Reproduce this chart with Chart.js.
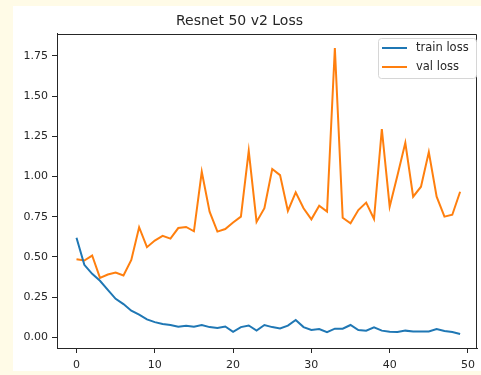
<!DOCTYPE html>
<html>
<head>
<meta charset="utf-8">
<script src="https://cdn.jsdelivr.net/npm/chart.js@4/dist/chart.umd.min.js"></script>
<style>
  html, body { margin: 0; padding: 0; background: #fffbe7; }
  canvas { display: block; }
</style>
</head>
<body>
<canvas id="c" width="481" height="375"></canvas>
<script>
const titleText = "Resnet 50 v2 Loss";
const epochs = Array.from({length: 50}, (_, i) => i);
const trainLoss = [0.620, 0.451, 0.395, 0.352, 0.296, 0.240, 0.207, 0.166, 0.141, 0.112,
                   0.095, 0.083, 0.077, 0.066, 0.073, 0.066, 0.077, 0.064, 0.058, 0.068,
                   0.035, 0.064, 0.074, 0.043, 0.077, 0.064, 0.056, 0.073, 0.108, 0.064,
                   0.046, 0.052, 0.033, 0.054, 0.054, 0.077, 0.046, 0.042, 0.062, 0.042,
                   0.035, 0.033, 0.042, 0.037, 0.037, 0.037, 0.052, 0.040, 0.033, 0.021];
const valLoss = [0.486, 0.478, 0.509, 0.370, 0.391, 0.403, 0.385, 0.482, 0.685, 0.561,
                 0.602, 0.631, 0.614, 0.680, 0.687, 0.660, 1.030, 0.782, 0.658, 0.674,
                 0.714, 0.751, 1.160, 0.718, 0.803, 1.047, 1.009, 0.786, 0.902, 0.803,
                 0.734, 0.819, 0.782, 1.800, 0.744, 0.710, 0.792, 0.838, 0.736, 1.295,
                 0.813, 1.009, 1.210, 0.875, 0.937, 1.152, 0.875, 0.751, 0.763, 0.906];
const seriesNames = ["train loss", "val loss"];
const xTickValues = [0, 10, 20, 30, 40, 50];
const yTickValues = [0.00, 0.25, 0.50, 0.75, 1.00, 1.25, 1.50, 1.75];

const colors = ["#1f77b4", "#ff7f0e"];
const axisColor = "#262626";
const FONT = "'DejaVu Sans', sans-serif";

const bgPlugin = {
  id: 'bg',
  beforeDraw(chart) {
    const ctx = chart.ctx;
    ctx.save();
    ctx.fillStyle = '#fffbe7';
    ctx.fillRect(0, 0, chart.width, chart.height);
    ctx.fillStyle = '#ffffff';
    ctx.fillRect(13, 6, chart.width - 13, 365);
    ctx.restore();
  }
};

const framePlugin = {
  id: 'frame',
  afterDraw(chart) {
    const ctx = chart.ctx;
    const a = chart.chartArea;
    ctx.save();
    ctx.strokeStyle = axisColor;
    ctx.lineWidth = 1;
    ctx.beginPath();
    ctx.moveTo(Math.round(a.left) + 0.5, Math.round(a.top) + 0.5);
    ctx.lineTo(Math.round(a.right) - 0.5, Math.round(a.top) + 0.5);
    ctx.lineTo(Math.round(a.right) - 0.5, Math.round(a.bottom) + 0.5);
    ctx.stroke();

    // legend
    const bx = 378.5, by = 38.5, bw = 98, bh = 40, r = 3;
    ctx.beginPath();
    ctx.moveTo(bx + r, by);
    ctx.lineTo(bx + bw - r, by);
    ctx.quadraticCurveTo(bx + bw, by, bx + bw, by + r);
    ctx.lineTo(bx + bw, by + bh - r);
    ctx.quadraticCurveTo(bx + bw, by + bh, bx + bw - r, by + bh);
    ctx.lineTo(bx + r, by + bh);
    ctx.quadraticCurveTo(bx, by + bh, bx, by + bh - r);
    ctx.lineTo(bx, by + r);
    ctx.quadraticCurveTo(bx, by, bx + r, by);
    ctx.closePath();
    ctx.fillStyle = 'rgba(255,255,255,0.8)';
    ctx.fill();
    ctx.strokeStyle = '#d6d6d6';
    ctx.stroke();

    chart.data.datasets.forEach((ds, i) => {
      const y = 48 + i * 19;
      ctx.strokeStyle = ds.borderColor;
      ctx.lineWidth = 2;
      ctx.beginPath();
      ctx.moveTo(382, y);
      ctx.lineTo(407, y);
      ctx.stroke();
      ctx.fillStyle = '#262626';
      ctx.font = "11.5px " + FONT;
      ctx.textBaseline = 'middle';
      ctx.textAlign = 'left';
      ctx.fillText(ds.label, 416, y);
    });
    ctx.restore();
  }
};

new Chart(document.getElementById('c'), {
  type: 'line',
  data: {
    datasets: [
      { label: seriesNames[0], data: trainLoss.map((v, i) => ({x: epochs[i], y: v})),
        borderColor: colors[0], backgroundColor: colors[0], borderWidth: 2, pointRadius: 0, tension: 0 },
      { label: seriesNames[1], data: valLoss.map((v, i) => ({x: epochs[i], y: v})),
        borderColor: colors[1], backgroundColor: colors[1], borderWidth: 2, pointRadius: 0, tension: 0 }
    ]
  },
  options: {
    responsive: false,
    animation: false,
    devicePixelRatio: 1,
    layout: { padding: { left: 0, right: 2, top: 0, bottom: 0 } },
    plugins: {
      legend: { display: false },
      tooltip: { enabled: false },
      title: {
        display: true,
        text: titleText,
        color: '#262626',
        font: { family: FONT, size: 14, weight: 'normal' },
        padding: { top: 13, bottom: 4 }
      }
    },
    scales: {
      x: {
        type: 'linear',
        min: -2.49,
        max: 51.2,
        afterBuildTicks(scale) { scale.ticks = xTickValues.map(v => ({value: v})); },
        afterFit(scale) { scale.height = 27; },
        ticks: {
          color: '#262626',
          font: { family: FONT, size: 11 },
          padding: 6,
          maxRotation: 0,
          callback: v => String(v)
        },
        grid: { display: true, drawOnChartArea: false, drawTicks: true, tickLength: 5, color: axisColor },
        border: { display: true, color: axisColor, width: 1 }
      },
      y: {
        type: 'linear',
        min: -0.066,
        max: 1.888,
        afterBuildTicks(scale) { scale.ticks = yTickValues.map(v => ({value: v})); },
        afterFit(scale) { scale.width = 57; },
        ticks: {
          color: '#262626',
          font: { family: FONT, size: 11 },
          padding: 4,
          callback: v => Number(v).toFixed(2)
        },
        grid: { display: true, drawOnChartArea: false, drawTicks: true, tickLength: 5, color: axisColor },
        border: { display: true, color: axisColor, width: 1 }
      }
    }
  },
  plugins: [bgPlugin, framePlugin]
});
</script>
</body>
</html>
